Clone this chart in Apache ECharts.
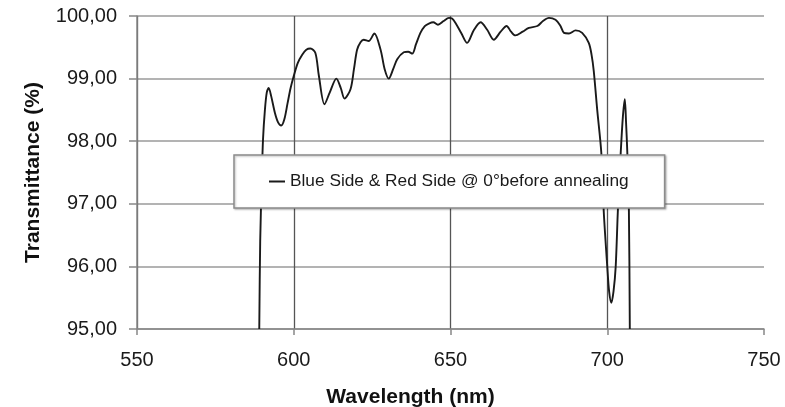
<!DOCTYPE html>
<html>
<head>
<meta charset="utf-8">
<script src="https://cdn.jsdelivr.net/npm/echarts@6/dist/echarts.min.js"></script>
<style>
html,body{margin:0;padding:0;background:#fff;}
#chart{width:785px;height:407px;}
</style>
</head>
<body>
<div id="chart"></div>
<script>
// Data
const wavelength = [
  589.0, 589.3, 589.8, 590.2, 590.8, 591.4, 592.0, 592.8, 594.0, 595.0,
  596.0, 597.0, 598.0, 599.0, 600.0, 601.3, 602.7, 604.0, 605.3, 606.9,
  608.0, 609.8, 611.5, 613.6, 615.0, 616.2, 618.1, 619.2, 620.2, 621.3,
  622.3, 623.9, 625.7, 627.7, 629.0, 630.3, 631.7, 633.0, 635.1, 636.5,
  637.8, 639.0, 640.4, 641.8, 643.1, 644.5, 646.0, 647.8, 649.5, 650.5,
  651.6, 653.5, 655.3, 657.5, 659.6, 661.7, 663.8, 666.0, 667.9, 669.3,
  670.7, 673.0, 675.0, 677.7, 679.5, 681.4, 683.5, 685.0, 686.2, 687.8,
  689.9, 692.0, 694.1, 695.0, 695.7, 696.8, 698.1, 698.9, 700.0, 700.6,
  701.3, 702.0, 702.7, 703.4, 704.3, 705.0, 705.6, 706.0, 706.4, 706.9,
  707.2
];
const transmittance = [
  95.00, 96.40, 97.40, 98.03, 98.50, 98.78, 98.85, 98.72, 98.45, 98.30,
  98.25, 98.35, 98.60, 98.85, 99.04, 99.25, 99.38, 99.46, 99.48, 99.41,
  99.05, 98.59, 98.78, 99.00, 98.85, 98.68, 98.83, 99.15, 99.46, 99.58,
  99.62, 99.60, 99.72, 99.46, 99.15, 99.00, 99.15, 99.31, 99.42, 99.43,
  99.40, 99.55, 99.73, 99.84, 99.88, 99.90, 99.86, 99.92, 99.97, 99.96,
  99.89, 99.72, 99.57, 99.78, 99.90, 99.78, 99.62, 99.75, 99.84, 99.75,
  99.69, 99.75, 99.81, 99.84, 99.92, 99.97, 99.94, 99.85, 99.73, 99.72,
  99.77, 99.73, 99.57, 99.38, 99.12, 98.50, 97.82, 96.86, 96.00, 95.60,
  95.42, 95.60, 96.00, 96.91, 97.82, 98.40, 98.67, 98.30, 97.82, 96.91,
  95.00
];
const xTickLabels = ['550', '600', '650', '700', '750'];
const yTickLabels = ['95,00', '96,00', '97,00', '98,00', '99,00', '100,00'];
const seriesName = 'Blue Side & Red Side @ 0°before annealing';

const points = wavelength.map((w, i) => [w, transmittance[i]]);

const chart = echarts.init(document.getElementById('chart'), null, {renderer: 'canvas'});
const font = '"Liberation Sans", Arial, Helvetica, sans-serif';
chart.setOption({
  animation: false,
  backgroundColor: '#ffffff',
  textStyle: {fontFamily: font},
  grid: {left: 137, right: 21, top: 16, bottom: 78, containLabel: false, outerBoundsMode: 'none'},
  xAxis: {
    type: 'value', min: 550, max: 750, interval: 50,
    name: 'Wavelength (nm)', nameLocation: 'middle', nameGap: 58,
    nameTextStyle: {fontFamily: font, fontWeight: 'bold', fontSize: 21, color: '#111', padding: [0, 80, 0, 0]},
    axisLine: {show: true, lineStyle: {color: '#888', width: 1.5}},
    axisTick: {show: true, length: 6, lineStyle: {color: '#888', width: 1.5}},
    axisLabel: {
      margin: 21, fontSize: 20, color: '#1a1a1a', fontFamily: font,
      formatter: v => xTickLabels[Math.round((v - 550) / 50)]
    },
    splitLine: {show: true, lineStyle: {color: ['#555', '#555', '#555', '#555', 'rgba(0,0,0,0)'], width: 1.3}}
  },
  yAxis: {
    type: 'value', min: 95, max: 100, interval: 1,
    name: 'Transmittance (%)', nameLocation: 'middle', nameGap: 93,
    nameTextStyle: {fontFamily: font, fontWeight: 'bold', fontSize: 21, color: '#111'},
    axisLine: {show: true, lineStyle: {color: '#888', width: 1.5}},
    axisTick: {show: true, length: 8, lineStyle: {color: '#888', width: 1.5}},
    axisLabel: {
      margin: 20, fontSize: 20, color: '#1a1a1a', fontFamily: font,
      formatter: v => yTickLabels[Math.round(v - 95)]
    },
    splitLine: {show: true, lineStyle: {color: '#9a9a9a', width: 1.5}}
  },
  legend: {
    show: true, left: 234, top: 155,
    orient: 'horizontal',
    padding: [18, 36, 18, 35],
    backgroundColor: '#ffffff', borderColor: '#8c8c8c', borderWidth: 1.5,
    shadowColor: 'rgba(0,0,0,0.25)', shadowBlur: 2, shadowOffsetX: 1, shadowOffsetY: 1,
    itemWidth: 16, itemHeight: 2, icon: 'rect',
    textStyle: {fontSize: 17.3, color: '#1a1a1a', fontFamily: font},
    data: [seriesName]
  },
  series: [{
    name: seriesName,
    type: 'line',
    data: points,
    showSymbol: false,
    smooth: 0.3,
    lineStyle: {color: '#1a1a1a', width: 1.9},
    itemStyle: {color: '#1a1a1a'},
    clip: true
  }]
});
</script>
</body>
</html>
